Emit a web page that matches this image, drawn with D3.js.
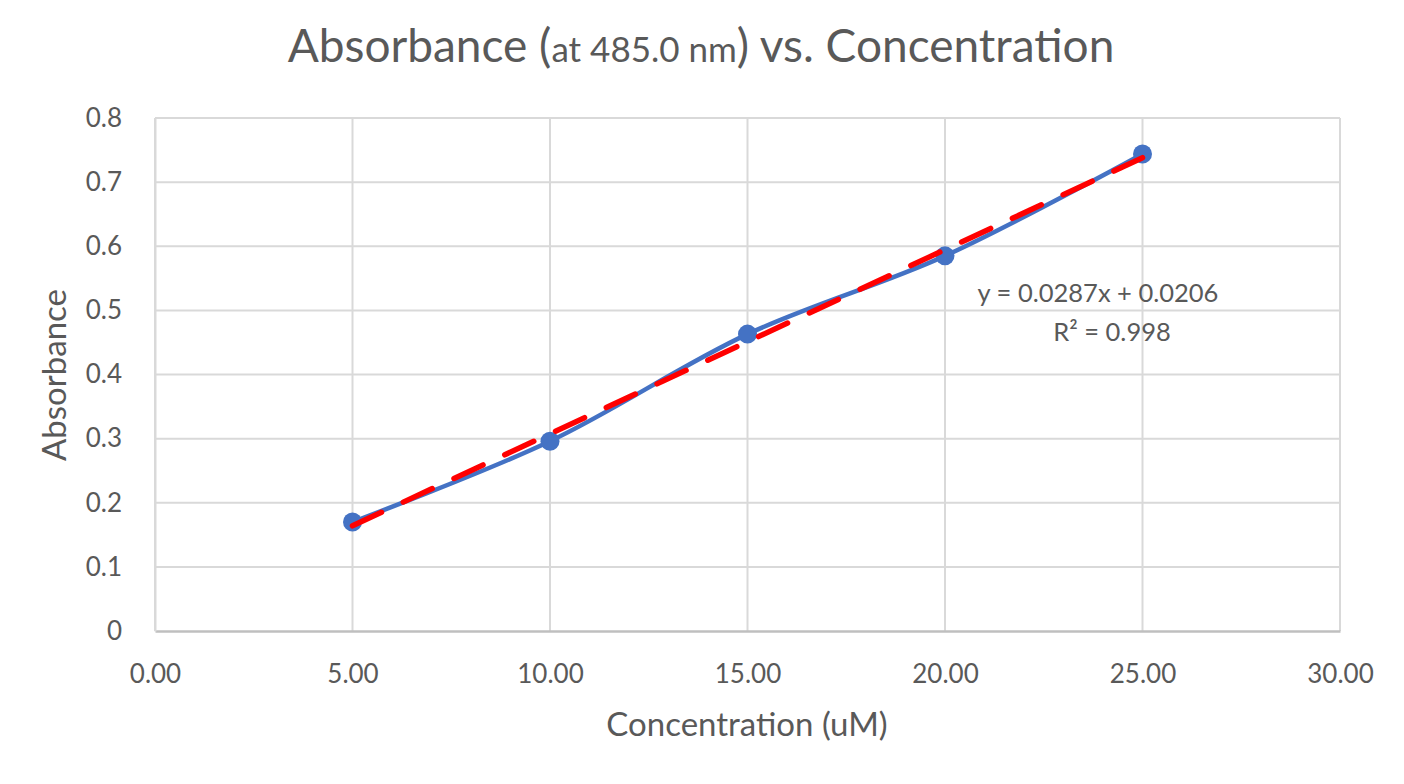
<!DOCTYPE html>
<html>
  <head>
    <meta charset="UTF-8" />
    <style>
      body {
        margin: 0;
        background-color: #ffffff;
      }
      svg text {
        font-family: Lato, "Open Sans", sans-serif;
        fill: #595959;
      }
    </style>
  </head>
  <body>
    <svg></svg>

    <script src="https://d3js.org/d3.v7.min.js"></script>
    <script>
      // data
      const concentrations = [5, 10, 15, 20, 25];
      const absorbances = [0.17, 0.296, 0.463, 0.585, 0.744];
      const xTicks = [0, 5, 10, 15, 20, 25, 30];
      const yTicks = [0, 0.1, 0.2, 0.3, 0.4, 0.5, 0.6, 0.7, 0.8];
      const trendSlope = 0.0287;
      const trendIntercept = 0.0206;
      const trendRSquared = 0.998;

      const points = concentrations.map((c, i) => ({ x: c, y: absorbances[i] }));

      const width = 1404;
      const height = 784;
      const plot = { left: 155, right: 1340, top: 118, bottom: 631 };

      const svg = d3
        .select("svg")
        .attr("width", width)
        .attr("height", height);

      const xScale = d3
        .scaleLinear()
        .domain([0, 30])
        .range([plot.left, plot.right]);

      const yScale = d3
        .scaleLinear()
        .domain([0, 0.8])
        .range([plot.bottom, plot.top]);

      // gridlines
      svg
        .append("g")
        .selectAll("line")
        .data(yTicks.slice(1))
        .enter()
        .append("line")
        .attr("x1", plot.left)
        .attr("x2", plot.right)
        .attr("y1", (d) => yScale(d))
        .attr("y2", (d) => yScale(d))
        .attr("stroke", "#d9d9d9")
        .attr("stroke-width", 2);

      svg
        .append("g")
        .selectAll("line")
        .data(xTicks)
        .enter()
        .append("line")
        .attr("x1", (d) => xScale(d))
        .attr("x2", (d) => xScale(d))
        .attr("y1", plot.top)
        .attr("y2", plot.bottom)
        .attr("stroke", "#d9d9d9")
        .attr("stroke-width", 2);

      // axes
      const xAxis = svg
        .append("g")
        .attr("transform", `translate(0, ${plot.bottom})`)
        .call(
          d3
            .axisBottom(xScale)
            .tickValues(xTicks)
            .tickSize(0)
            .tickPadding(34)
            .tickFormat(d3.format(".2f"))
        );
      xAxis.select(".domain").attr("stroke", "#bfbfbf").attr("stroke-width", 2.5);
      xAxis.selectAll("text").attr("font-size", 26).attr("fill", "#595959");

      const yAxis = svg
        .append("g")
        .attr("transform", `translate(${plot.left}, 0)`)
        .call(
          d3
            .axisLeft(yScale)
            .tickValues(yTicks)
            .tickSize(0)
            .tickPadding(33)
            .tickFormat((d) => (d === 0 ? "0" : d3.format(".1f")(d)))
        );
      yAxis.select(".domain").attr("stroke", "#d9d9d9").attr("stroke-width", 2);
      yAxis.selectAll("text").attr("font-size", 26).attr("fill", "#595959");
      svg.selectAll(".tick text").attr("font-family", "Lato, 'Open Sans', sans-serif");

      // smoothed data line
      const line = d3
        .line()
        .x((d) => xScale(d.x))
        .y((d) => yScale(d.y))
        .curve(d3.curveCatmullRom.alpha(0.5));

      svg
        .append("path")
        .datum(points)
        .attr("d", line)
        .attr("fill", "none")
        .attr("stroke", "#4472c4")
        .attr("stroke-width", 4.5);

      svg
        .append("g")
        .selectAll("circle")
        .data(points)
        .enter()
        .append("circle")
        .attr("cx", (d) => xScale(d.x))
        .attr("cy", (d) => yScale(d.y))
        .attr("r", 9.5)
        .attr("fill", "#4472c4");

      // linear trendline
      const xMin = d3.min(concentrations);
      const xMax = d3.max(concentrations);
      const trend = [xMin, xMax].map((x) => ({ x: x, y: trendSlope * x + trendIntercept }));

      svg
        .append("path")
        .datum(trend)
        .attr("d", d3.line().x((d) => xScale(d.x)).y((d) => yScale(d.y)))
        .attr("fill", "none")
        .attr("stroke", "#ff0000")
        .attr("stroke-width", 5.5)
        .attr("stroke-linecap", "round")
        .attr("stroke-dasharray", "32,24");

      // trendline label
      svg
        .append("text")
        .attr("x", 1098)
        .attr("y", 302)
        .attr("text-anchor", "middle")
        .attr("font-size", 25.5)
        .text(`y = ${trendSlope}x + ${trendIntercept}`);

      svg
        .append("text")
        .attr("x", 1112)
        .attr("y", 341)
        .attr("text-anchor", "middle")
        .attr("font-size", 25.5)
        .text(`R² = ${trendRSquared}`);

      // title
      const title = svg
        .append("text")
        .attr("x", 701)
        .attr("y", 62)
        .attr("text-anchor", "middle")
        .attr("font-size", 46);
      title.append("tspan").text("Absorbance (");
      title.append("tspan").attr("font-size", 35).text("at 485.0 nm");
      title.append("tspan").text(") vs. Concentration");

      // axis titles
      svg
        .append("text")
        .attr("x", 747)
        .attr("y", 736)
        .attr("text-anchor", "middle")
        .attr("font-size", 33)
        .text("Concentration (uM)");

      svg
        .append("text")
        .attr("transform", "translate(66, 375) rotate(-90)")
        .attr("text-anchor", "middle")
        .attr("font-size", 33)
        .text("Absorbance");
    </script>
  </body>
</html>
